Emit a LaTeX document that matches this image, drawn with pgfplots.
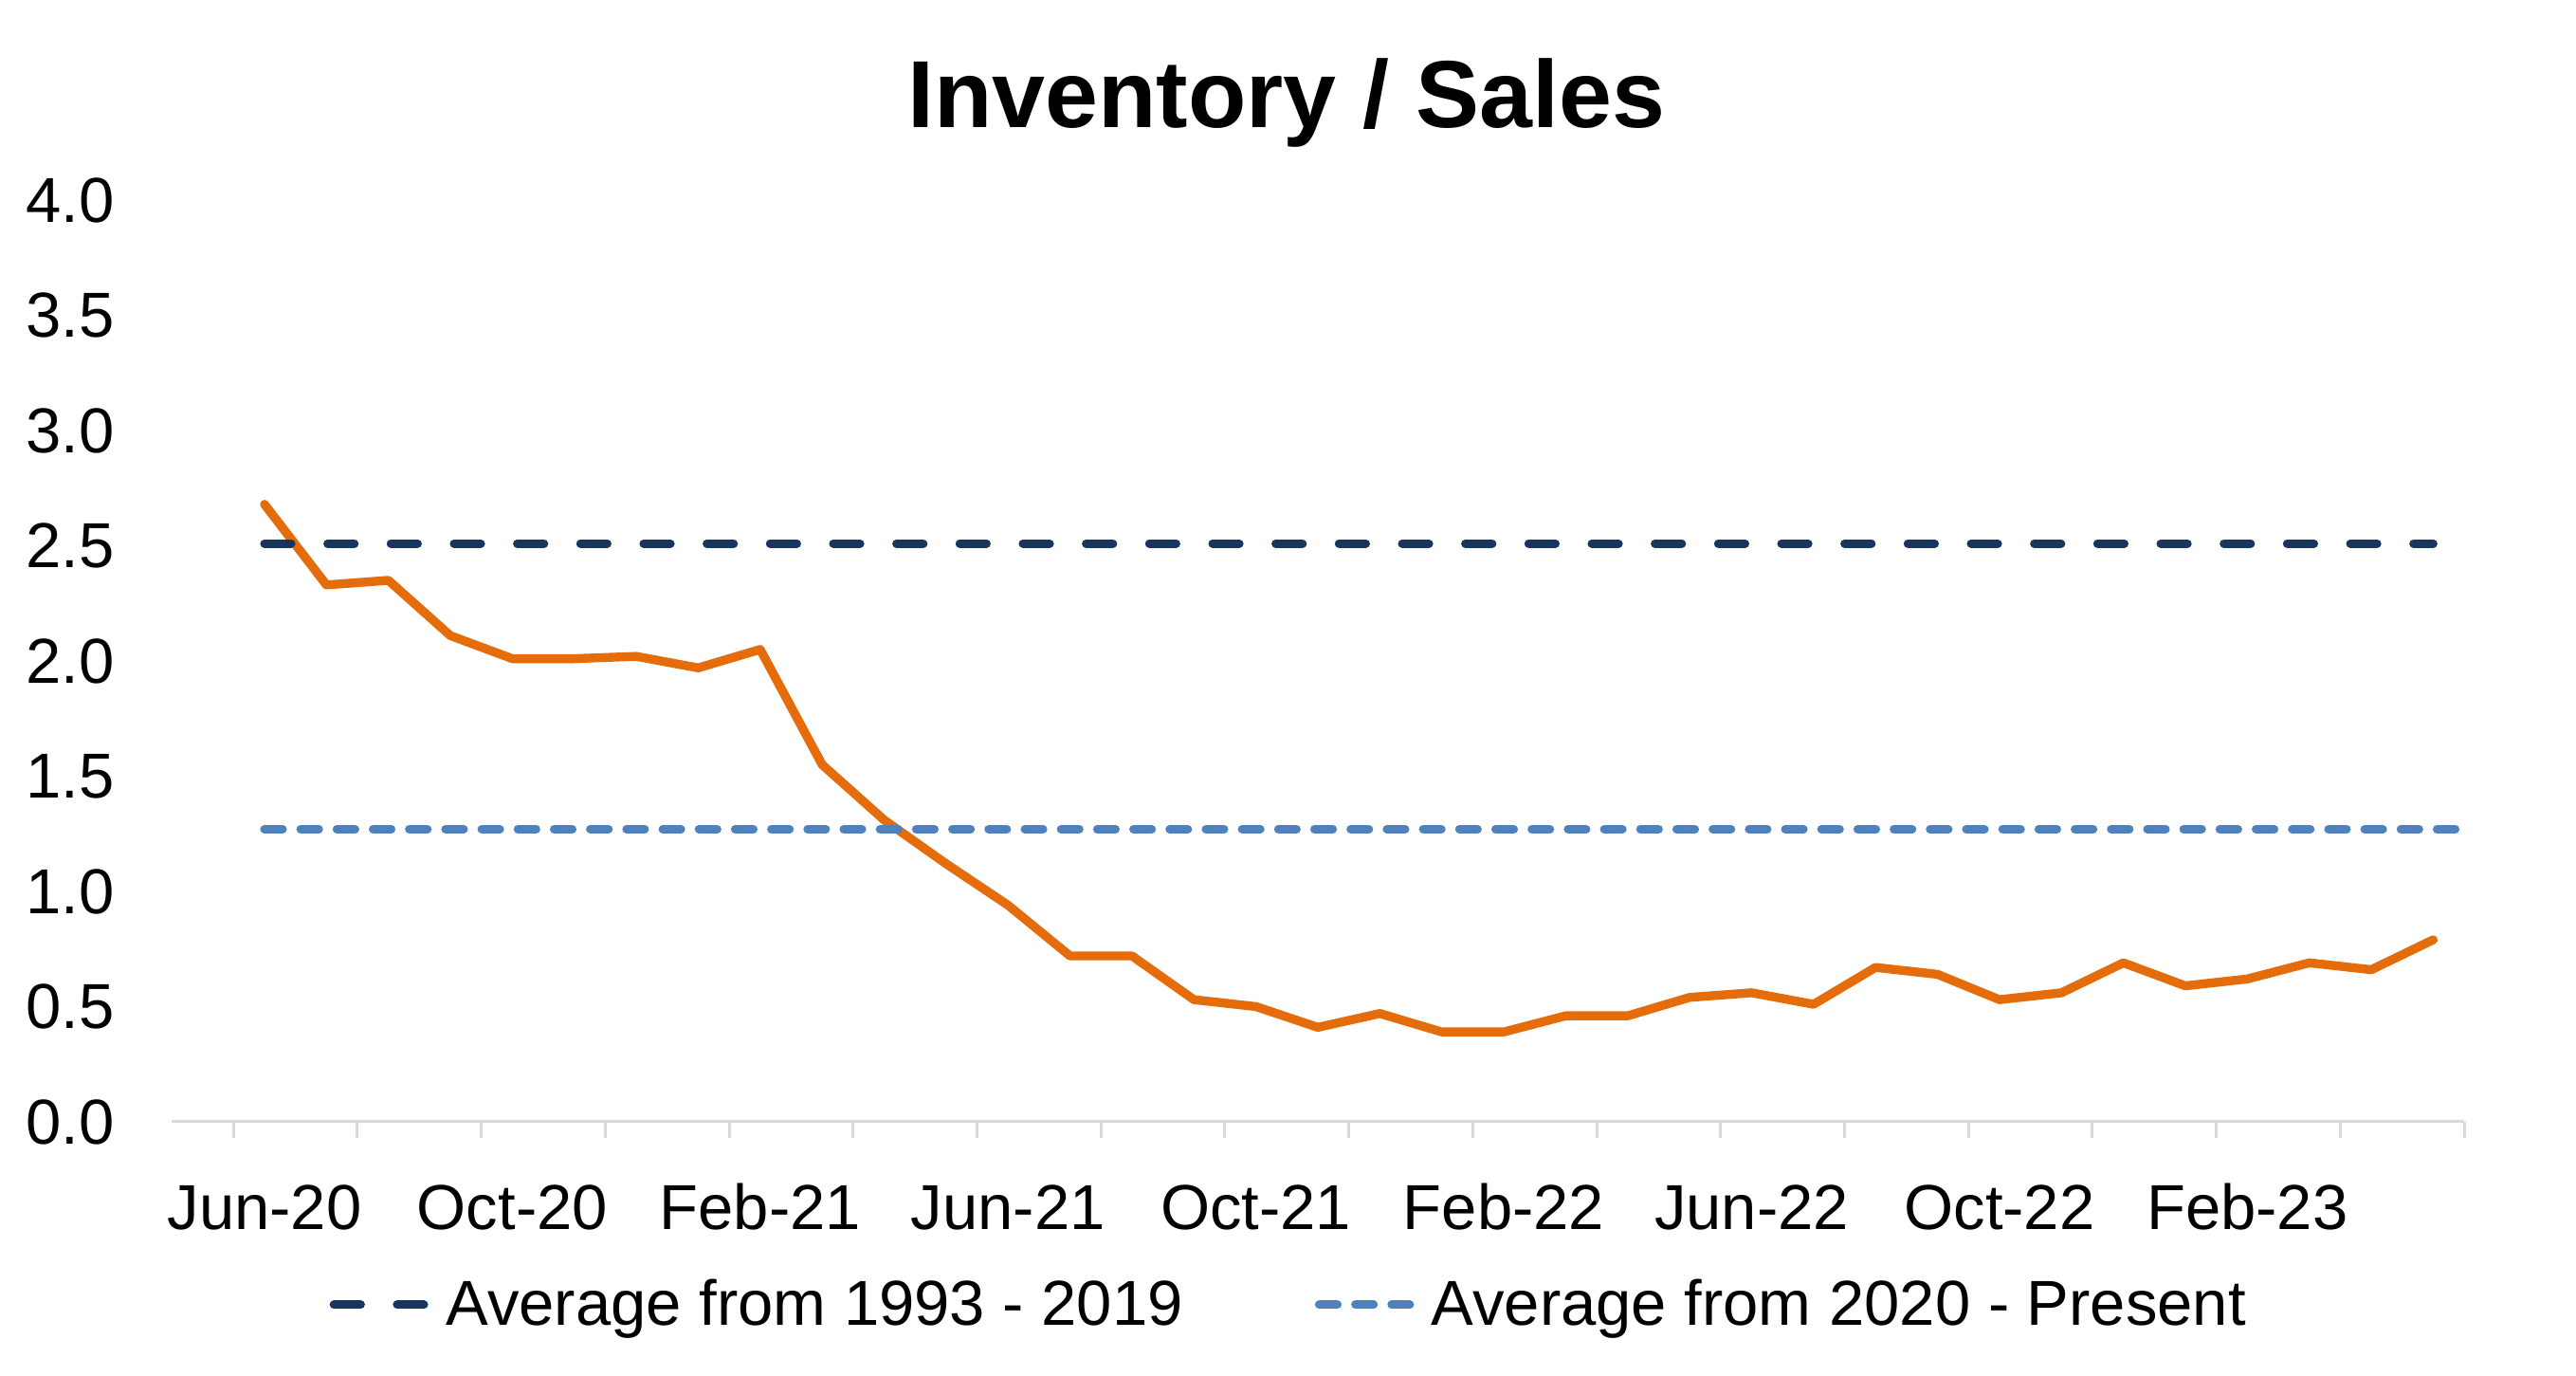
\documentclass[border=0pt]{standalone}
\usepackage{pgfplots}
\pgfplotsset{compat=1.18}
\usepackage{fontspec}
\setmainfont{Liberation Sans}
\definecolor{invorange}{RGB}{228,108,10}
\definecolor{avgnavy}{RGB}{24,54,93}
\definecolor{avgblue}{RGB}{79,129,189}
\definecolor{axisgray}{RGB}{217,217,217}

\pgfplotstableread{
idx ratio
0 2.68
1 2.33
2 2.35
3 2.11
4 2.01
5 2.01
6 2.02
7 1.97
8 2.05
9 1.55
10 1.31
11 1.12
12 0.94
13 0.72
14 0.72
15 0.53
16 0.50
17 0.41
18 0.47
19 0.39
20 0.39
21 0.46
22 0.46
23 0.54
24 0.56
25 0.51
26 0.67
27 0.64
28 0.53
29 0.56
30 0.69
31 0.59
32 0.62
33 0.69
34 0.66
35 0.79
}\invsales

\begin{document}
\begin{tikzpicture}
\path (-54pt,-80pt) rectangle (757pt,353.1pt);
\begin{axis}[
    at={(0,0)}, anchor=south west,
    scale only axis,
    width=721.8pt, height=290.1pt,
    xmin=-1.5, xmax=35.5, ymin=0, ymax=4,
    axis line style={draw=none},
    xtick pos=bottom, ytick pos=left,
    xtick align=outside,
    major tick length=5pt,
    x tick style={draw=axisgray, line width=0.9pt},
    y tick style={draw=none},
    xtick={-0.5,1.5,...,35.5},
    xticklabels={},
    extra x ticks={0,4,8,12,16,20,24,28,32},
    extra x tick labels={Jun-20,Oct-20,Feb-21,Jun-21,Oct-21,Feb-22,Jun-22,Oct-22,Feb-23},
    extra x tick style={major tick length=0pt,
        xticklabel style={anchor=base, yshift=-34pt}},
    ytick={0,0.5,...,4},
    extra y ticks={0},
    extra y tick labels={},
    extra y tick style={grid=major, major grid style={draw=axisgray, line width=0.9pt}},
    /pgf/number format/assume math mode=true,
    /pgf/number format/fixed,
    /pgf/number format/fixed zerofill,
    /pgf/number format/precision=1,
    yticklabel style={anchor=east, xshift=-14.5pt},
    tick label style={font=\fontsize{20}{24}\selectfont},
    legend columns=2,
    legend style={at={(0.0687,-0.1986)}, anchor=west, draw=none, fill=none,
        inner sep=0pt, font=\fontsize{20}{24}\selectfont,
        /tikz/every odd column/.append style={column sep=1pt},
        /tikz/every even column/.append style={column sep=39.5pt}},
    legend image code/.code={\draw[#1] (0pt,0pt) -- (31pt,0pt);},
]
\addplot[invorange, line width=2.8pt, line cap=round, line join=round, forget plot]
    table[x=idx, y=ratio] {\invsales};
\addplot[avgnavy, line width=2.7pt, line cap=round, dash pattern=on 8.4pt off 11.5pt]
    coordinates {(0,2.51) (35,2.51)};
\addlegendentry{Average from 1993 - 2019}
\addplot[avgblue, line width=2.7pt, line cap=round, dash pattern=on 5.7pt off 5.7pt]
    coordinates {(0,1.27) (36,1.27)};
\addlegendentry{Average from 2020 - Present}
\end{axis}
\node[font=\fontsize{30}{36}\selectfont\bfseries, anchor=base] at (351pt,313pt) {Inventory / Sales};
\end{tikzpicture}
\end{document}
